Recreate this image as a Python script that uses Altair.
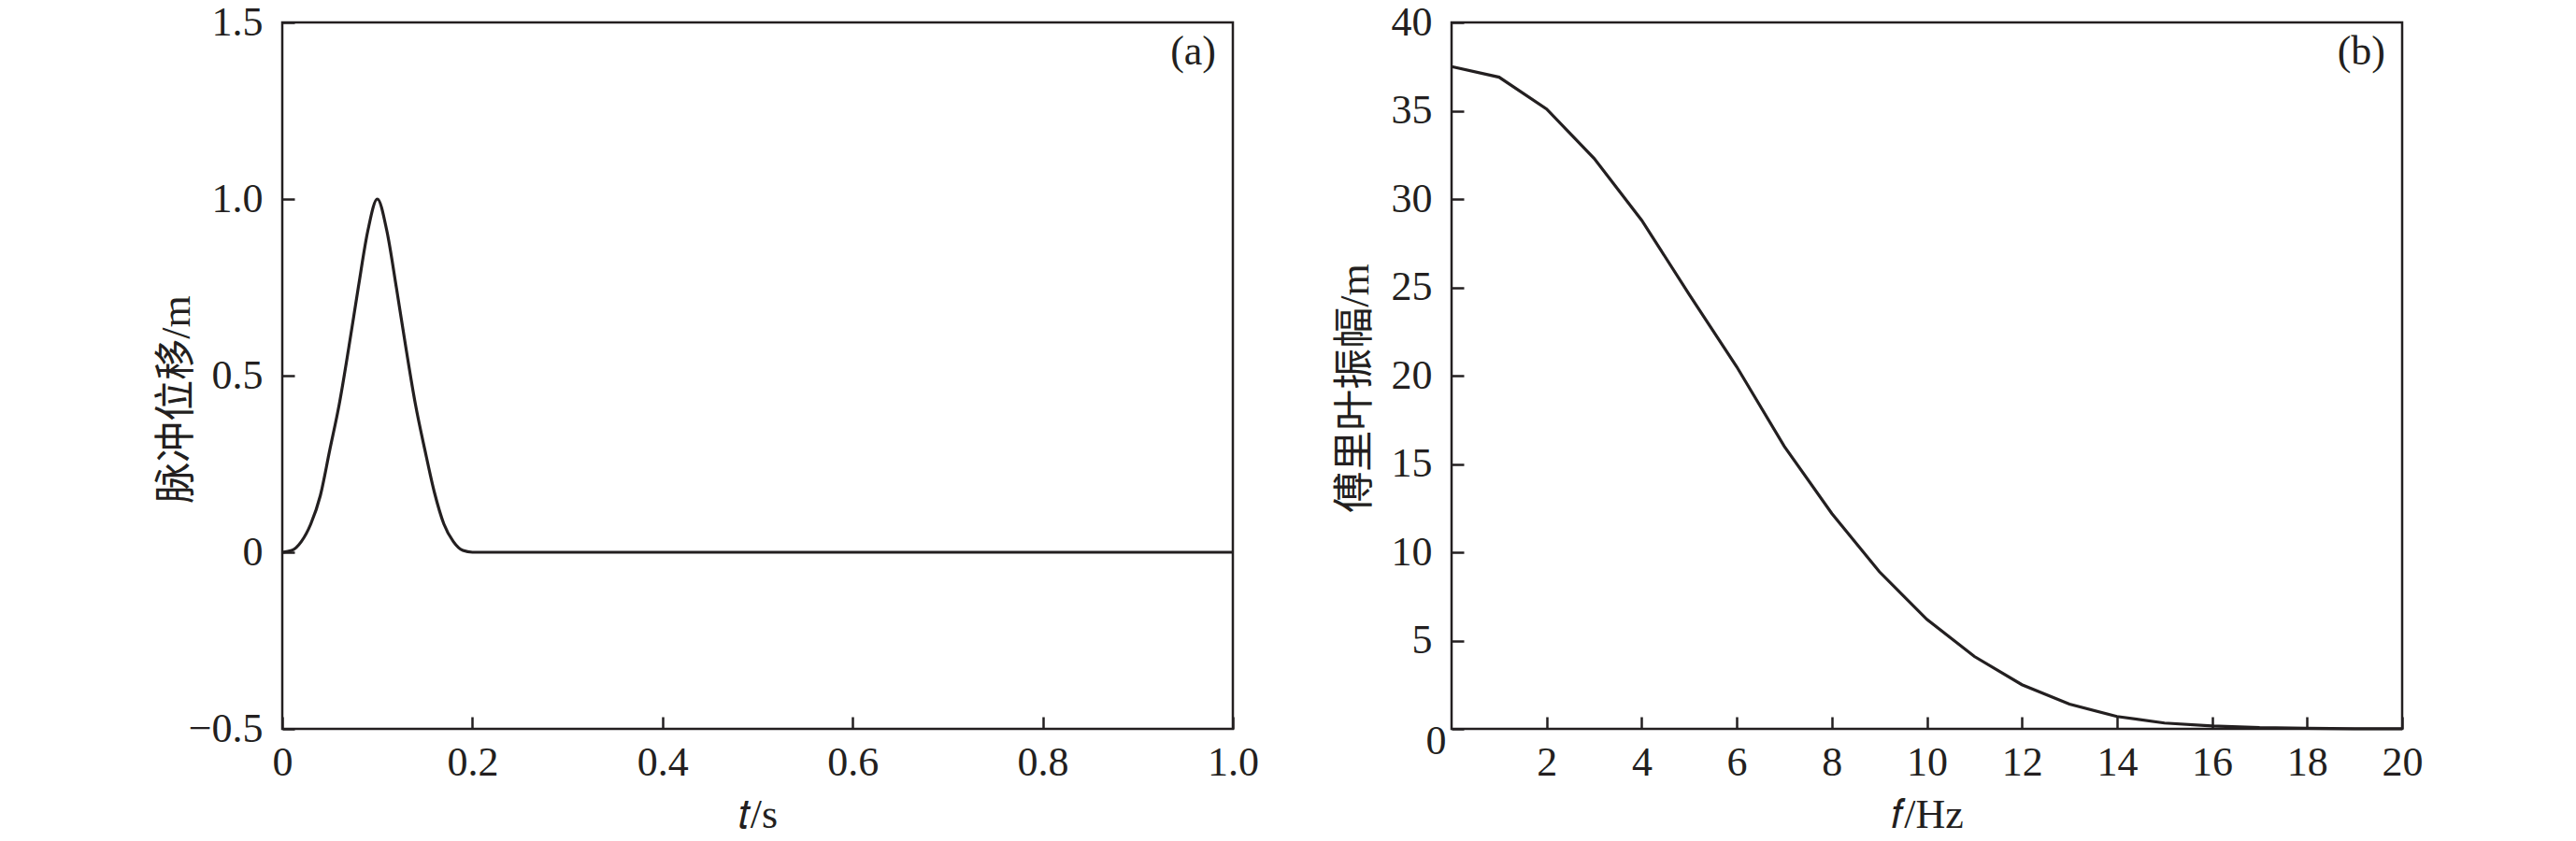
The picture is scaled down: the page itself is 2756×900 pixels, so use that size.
import altair as alt
import pandas as pd

# ---- data ----
pulse_t = [0.00, 0.01, 0.02, 0.03, 0.04, 0.05, 0.06, 0.07, 0.08, 0.09, 0.10,
           0.11, 0.12, 0.13, 0.14, 0.15, 0.16, 0.17, 0.18, 0.19, 0.20,
           0.30, 0.40, 0.50, 0.60, 0.70, 0.80, 0.90, 1.00]
pulse_d = [0.0, 0.005, 0.03, 0.08, 0.16, 0.29, 0.42, 0.58, 0.75, 0.91, 1.0,
           0.91, 0.75, 0.58, 0.42, 0.29, 0.17, 0.08, 0.03, 0.005, 0.0,
           0.0, 0.0, 0.0, 0.0, 0.0, 0.0, 0.0, 0.0]

freq_hz = [0, 1, 2, 3, 4, 5, 6, 7, 8, 9, 10, 11, 12, 13, 14, 15, 16, 17, 18, 19, 20]
fourier_amp = [37.5, 36.9, 35.1, 32.3, 28.8, 24.6, 20.5, 16.0, 12.2, 8.9, 6.2,
               4.1, 2.5, 1.4, 0.7, 0.33, 0.17, 0.07, 0.03, 0.01, 0.005]

left_x_ticks = [0, 0.2, 0.4, 0.6, 0.8, 1.0]
left_y_ticks = [-0.5, 0, 0.5, 1.0, 1.5]
right_x_ticks = [2, 4, 6, 8, 10, 12, 14, 16, 18, 20]
right_y_ticks = [0, 5, 10, 15, 20, 25, 30, 35, 40]

INK = "#231f20"
FONT = "Liberation Serif, Noto Sans CJK SC"
FS = 44
W, H = 1017, 756

df_a = pd.DataFrame({"t": pulse_t, "d": pulse_d})
df_b = pd.DataFrame({"f": freq_hz, "a": fourier_amp})

def panel_title(txt):
    return alt.TitleParams(txt, anchor="end", frame="group", orient="top",
                           offset=-98, dx=-18, baseline="middle", align="right",
                           font=FONT, fontSize=FS, fontWeight="normal", color=INK)

left = alt.Chart(df_a).mark_line(color=INK, strokeWidth=3.2, interpolate="monotone").encode(
    x=alt.X("t:Q", scale=alt.Scale(domain=[0, 1], nice=False, zero=False),
            axis=alt.Axis(values=left_x_ticks,
                          labelExpr="datum.value == 0 ? '0' : format(datum.value, '.1f')",
                          title="𝑡/s", offset=-13, tickSize=13, domain=False, grid=False,
                          labelPadding=14, labelFlush=False, labelOverlap=False,
                          titleY=118, titleBaseline="alphabetic")),
    y=alt.Y("d:Q", scale=alt.Scale(domain=[-0.5, 1.5], nice=False, zero=False),
            axis=alt.Axis(values=left_y_ticks,
                          labelExpr="datum.value == 0 ? '0' : replace(format(datum.value, '.1f'), '-', '—')",
                          title="脉冲位移/m", offset=-13, tickSize=13, domain=False, grid=False,
                          labelPadding=21, labelFlush=False, labelOverlap=False,
                          titleX=-126, titleY=403, titleAngle=270,
                          titleBaseline="middle", titleAlign="center")),
).properties(width=W, height=H, title=panel_title("(a)"))

right = alt.Chart(df_b).mark_line(color=INK, strokeWidth=3.2).encode(
    x=alt.X("f:Q", scale=alt.Scale(domain=[0, 20], nice=False, zero=False),
            axis=alt.Axis(values=right_x_ticks, format="d",
                          title="𝑓/Hz", offset=-13, tickSize=13, domain=False, grid=False,
                          labelPadding=14, labelFlush=False, labelOverlap=False,
                          titleY=118, titleBaseline="alphabetic")),
    y=alt.Y("a:Q", scale=alt.Scale(domain=[0, 40], nice=False, zero=False),
            axis=alt.Axis(values=right_y_ticks, format="d",
                          title="傅里叶振幅/m", offset=-13, tickSize=13, domain=False, grid=False,
                          labelPadding={"condition": {"test": "datum.value === 0", "value": 6}, "value": 21},
                          labelOffset={"condition": {"test": "datum.value === 0", "value": 13}, "value": 0},
                          labelFlush=False, labelOverlap=False,
                          titleX=-116, titleY=391, titleAngle=270,
                          titleBaseline="middle", titleAlign="center")),
).properties(width=W, height=H, title=panel_title("(b)"))

chart = alt.hconcat(left, right, spacing=78).configure(
    padding={"left": 157, "top": -8, "right": 0, "bottom": 0},
    background="white",
).configure_view(
    stroke=INK, strokeWidth=2.5
).configure_axis(
    labelFont=FONT, labelFontSize=FS, labelColor=INK,
    titleFont=FONT, titleFontSize=FS, titleColor=INK, titleFontWeight="normal",
    tickColor=INK, tickWidth=2.5,
)

chart.save("out.html", embed_options={"renderer": "svg", "actions": False})
